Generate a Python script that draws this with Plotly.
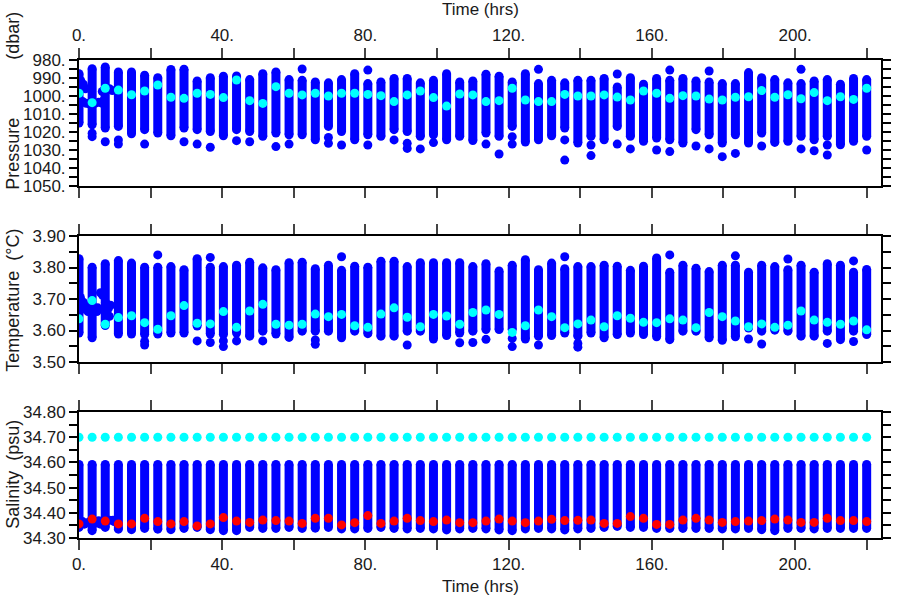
import plotly.graph_objects as go

# ---------------- data ----------------
times = [0.00, 3.67, 7.33, 11.00, 14.67, 18.33, 22.00, 25.67, 29.33, 33.00, 36.67, 40.33,
         44.00, 47.67, 51.33, 55.00, 58.67, 62.33, 66.00, 69.67, 73.33, 77.00, 80.67, 84.33,
         88.00, 91.67, 95.33, 99.00, 102.67, 106.33, 110.00, 113.67, 117.33, 121.00, 124.67,
         128.33, 132.00, 135.67, 139.33, 143.00, 146.67, 150.33, 154.00, 157.67, 161.33,
         165.00, 168.67, 172.33, 176.00, 179.67, 183.33, 187.00, 190.67, 194.33, 198.00,
         201.67, 205.33, 209.00, 212.67, 216.33, 220.00]

# Pressure (dbar)
p_top = [987.6, 984.8, 983.9, 986.6, 986.6, 988.5, 989.8, 985.3, 985.1, 991.6, 989.8, 989.0,
         988.9, 990.9, 987.6, 986.6, 990.9, 991.3, 992.2, 992.7, 990.9, 987.6, 993.1, 992.2,
         990.3, 990.3, 992.7, 991.3, 987.6, 992.2, 991.6, 987.9, 989.0, 992.2, 987.6, 993.1,
         991.3, 992.7, 991.3, 991.3, 990.3, 995.0, 989.8, 993.5, 990.3, 991.3, 990.3, 991.6,
         992.2, 993.1, 993.1, 987.0, 989.8, 990.9, 992.7, 993.1, 991.6, 990.9, 993.5, 990.3,
         990.9]
p_bot = [1015.0, 1016.0, 1017.8, 1016.9, 1021.0, 1018.7, 1020.6, 1022.1, 1017.8, 1018.7,
         1019.7, 1022.1, 1018.7, 1019.7, 1022.4, 1020.6, 1021.5, 1021.5, 1024.3, 1016.9,
         1019.7, 1024.3, 1021.5, 1022.4, 1018.7, 1019.7, 1022.4, 1021.5, 1024.3, 1022.4,
         1024.7, 1020.6, 1022.4, 1016.9, 1025.6, 1024.3, 1022.1, 1017.8, 1026.1, 1022.4,
         1024.3, 1016.9, 1022.4, 1025.2, 1023.4, 1024.3, 1026.1, 1018.7, 1021.5, 1026.1,
         1021.5, 1026.1, 1020.6, 1025.8, 1025.2, 1022.4, 1024.3, 1022.4, 1027.1, 1025.2,
         1022.4]
p_cyan = [998.5, 1003.7, 995.7, 996.7, 999.3, 997.2, 993.9, 1000.7, 1001.3, 998.5, 999.1,
          1000.9, 991.1, 1002.6, 1004.1, 994.8, 998.5, 999.4, 998.5, 1000.0, 998.5, 998.5,
          999.1, 999.8, 1003.1, 999.4, 997.2, 1000.9, 1005.6, 998.9, 999.4, 1003.1, 1002.6,
          995.7, 1002.2, 1003.1, 1003.1, 999.1, 1000.0, 1000.0, 999.4, 1000.6, 1002.2, 997.2,
          998.5, 1001.3, 999.8, 1000.0, 1001.7, 1002.2, 1000.7, 1000.4, 997.0, 1000.7, 999.3,
          1001.5, 998.1, 1002.6, 1000.4, 1001.9, 995.7]
p_extra_idx = [1, 1, 2, 3, 3, 5, 8, 9, 10, 12, 13, 15, 16, 17, 19, 19, 20, 22, 22, 24, 25, 25,
               26, 27, 31, 32, 33, 33, 35, 37, 37, 39, 39, 41, 41, 42, 44, 45, 45, 47, 48, 48,
               49, 50, 52, 55, 55, 56, 57, 57, 60]
p_extra_val = [1020.7, 1022.6, 1025.4, 1024.4, 1026.7, 1026.7, 1025.4, 1026.7, 1028.5, 1024.8,
               1025.4, 1028.1, 1026.7, 985.0, 1023.0, 1026.3, 1027.2, 985.6, 1027.2, 1024.4,
               1026.3, 1029.1, 1029.4, 1025.9, 1026.7, 1032.2, 1022.6, 1026.7, 985.2, 1024.4,
               1035.6, 1027.2, 1033.1, 987.8, 1026.7, 1029.4, 1030.0, 985.6, 1030.9, 1027.8,
               986.1, 1029.4, 1033.7, 1031.9, 1027.8, 985.2, 1029.4, 1030.4, 1027.2, 1032.8,
               1030.0]
p_early_t = [0.5, 1.2, 1.8, 1.0, 2.0, 3.0, 4.5, 5.5, 6.5, 7.0, 6.5, 7.5, 8.5, 9.3]
p_early = [991.5, 993.5, 996.0, 1003.0, 1004.0, 1004.5, 1004.0, 1003.5, 1004.0, 1002.0,
           997.5, 996.5, 996.0, 997.0]

# Temperature (deg C)
t_top = [3.828, 3.801, 3.812, 3.822, 3.814, 3.801, 3.801, 3.803, 3.793, 3.828, 3.801, 3.803,
         3.807, 3.817, 3.799, 3.793, 3.815, 3.817, 3.796, 3.807, 3.791, 3.804, 3.801, 3.820,
         3.820, 3.803, 3.815, 3.815, 3.815, 3.815, 3.803, 3.812, 3.789, 3.807, 3.825, 3.793,
         3.814, 3.796, 3.803, 3.803, 3.807, 3.804, 3.791, 3.804, 3.830, 3.785, 3.807, 3.798,
         3.787, 3.807, 3.807, 3.785, 3.807, 3.803, 3.793, 3.807, 3.785, 3.812, 3.807, 3.785,
         3.794]
t_bot = [3.592, 3.577, 3.616, 3.589, 3.589, 3.587, 3.589, 3.592, 3.592, 3.614, 3.589, 3.587,
         3.592, 3.582, 3.598, 3.589, 3.578, 3.598, 3.598, 3.598, 3.577, 3.598, 3.590, 3.582,
         3.582, 3.598, 3.598, 3.573, 3.584, 3.592, 3.598, 3.603, 3.603, 3.603, 3.573, 3.582,
         3.584, 3.592, 3.582, 3.592, 3.577, 3.587, 3.592, 3.587, 3.580, 3.571, 3.598, 3.598,
         3.577, 3.569, 3.580, 3.608, 3.598, 3.601, 3.598, 3.582, 3.582, 3.598, 3.571, 3.598,
         3.587]
t_cyan = [3.637, 3.695, 3.620, 3.641, 3.647, 3.625, 3.604, 3.647, 3.679, 3.623, 3.621, 3.660,
          3.610, 3.662, 3.683, 3.620, 3.617, 3.620, 3.652, 3.644, 3.651, 3.615, 3.610, 3.652,
          3.672, 3.642, 3.612, 3.651, 3.646, 3.620, 3.657, 3.665, 3.651, 3.594, 3.615, 3.665,
          3.644, 3.609, 3.621, 3.633, 3.612, 3.647, 3.639, 3.626, 3.625, 3.637, 3.633, 3.609,
          3.657, 3.644, 3.630, 3.612, 3.621, 3.610, 3.617, 3.662, 3.633, 3.626, 3.620, 3.630,
          3.602]
t_extra_idx = [5, 5, 6, 9, 10, 10, 11, 11, 12, 14, 18, 18, 20, 25, 29, 30, 31, 33, 33, 35, 37,
               38, 38, 45, 50, 51, 52, 54, 57, 59, 59]
t_extra_val = [3.565, 3.554, 3.840, 3.567, 3.832, 3.562, 3.567, 3.549, 3.567, 3.567, 3.570,
               3.556, 3.834, 3.554, 3.561, 3.562, 3.572, 3.575, 3.549, 3.554, 3.834, 3.559,
               3.547, 3.840, 3.837, 3.573, 3.557, 3.827, 3.559, 3.821, 3.565]
t_early_t = [0.4, 1.2, 2.0, 3.0, 4.2, 5.2, 6.0, 6.6, 7.4, 8.2, 8.8, 1.0, 2.5, 5.0, 8.5]
t_early = [3.705, 3.690, 3.675, 3.672, 3.668, 3.672, 3.720, 3.712, 3.690, 3.670, 3.680,
           3.668, 3.660, 3.660, 3.645]

# Salinity (psu)
s_top = [34.592, 34.592, 34.592, 34.592, 34.592, 34.592, 34.592, 34.592, 34.592, 34.592,
         34.592, 34.592, 34.592, 34.592, 34.592, 34.592, 34.592, 34.592, 34.592, 34.592,
         34.592, 34.592, 34.592, 34.592, 34.592, 34.592, 34.592, 34.592, 34.592, 34.592,
         34.592, 34.592, 34.592, 34.592, 34.592, 34.592, 34.592, 34.592, 34.592, 34.592,
         34.592, 34.592, 34.592, 34.592, 34.592, 34.592, 34.592, 34.592, 34.592, 34.592,
         34.592, 34.592, 34.592, 34.592, 34.592, 34.592, 34.592, 34.592, 34.592, 34.592,
         34.592]
s_bot = [34.342, 34.329, 34.342, 34.335, 34.333, 34.338, 34.335, 34.333, 34.338, 34.342,
         34.333, 34.329, 34.329, 34.342, 34.338, 34.338, 34.342, 34.338, 34.339, 34.342,
         34.336, 34.336, 34.338, 34.342, 34.338, 34.336, 34.338, 34.336, 34.332, 34.336,
         34.338, 34.336, 34.332, 34.329, 34.336, 34.338, 34.336, 34.332, 34.336, 34.338,
         34.342, 34.346, 34.342, 34.342, 34.338, 34.338, 34.338, 34.338, 34.338, 34.336,
         34.336, 34.338, 34.333, 34.329, 34.338, 34.338, 34.336, 34.338, 34.338, 34.338,
         34.338]
s_red = [34.356, 34.375, 34.367, 34.356, 34.356, 34.378, 34.365, 34.356, 34.365, 34.348,
         34.356, 34.381, 34.367, 34.362, 34.371, 34.369, 34.367, 34.358, 34.378, 34.378,
         34.352, 34.361, 34.389, 34.358, 34.367, 34.378, 34.369, 34.365, 34.371, 34.361,
         34.361, 34.367, 34.375, 34.367, 34.361, 34.367, 34.374, 34.369, 34.370, 34.371,
         34.358, 34.358, 34.385, 34.378, 34.354, 34.354, 34.371, 34.378, 34.371, 34.362,
         34.365, 34.367, 34.369, 34.375, 34.371, 34.362, 34.362, 34.378, 34.369, 34.369,
         34.365]
s_cyan = [34.70, 34.70, 34.70, 34.70, 34.70, 34.70, 34.70, 34.70, 34.70, 34.70, 34.70, 34.70,
          34.70, 34.70, 34.70, 34.70, 34.70, 34.70, 34.70, 34.70, 34.70, 34.70, 34.70, 34.70,
          34.70, 34.70, 34.70, 34.70, 34.70, 34.70, 34.70, 34.70, 34.70, 34.70, 34.70, 34.70,
          34.70, 34.70, 34.70, 34.70, 34.70, 34.70, 34.70, 34.70, 34.70, 34.70, 34.70, 34.70,
          34.70, 34.70, 34.70, 34.70, 34.70, 34.70, 34.70, 34.70, 34.70, 34.70, 34.70, 34.70,
          34.70]
s_early_t = [1.0, 2.0, 3.0, 5.0, 6.0, 7.0, 8.5, 9.5, 1.5, 5.5, 9.8]
s_early = [34.365, 34.360, 34.365, 34.360, 34.355, 34.360, 34.370, 34.370, 34.355, 34.368,
           34.365]

xtick_vals = [0, 20, 40, 60, 80, 100, 120, 140, 160, 180, 200, 220]
xtick_text = ["0.", "", "40.", "", "80.", "", "120.", "", "160.", "", "200.", ""]
p_ticks = [980, 985, 990, 995, 1000, 1005, 1010, 1015, 1020, 1025, 1030, 1035, 1040, 1045, 1050]
p_ticktext = ["980.", "", "990.", "", "1000.", "", "1010.", "", "1020.", "", "1030.", "",
              "1040.", "", "1050."]
t_ticks = [3.50, 3.55, 3.60, 3.65, 3.70, 3.75, 3.80, 3.85, 3.90]
t_ticktext = ["3.50", "", "3.60", "", "3.70", "", "3.80", "", "3.90"]
s_ticks = [34.30, 34.35, 34.40, 34.45, 34.50, 34.55, 34.60, 34.65, 34.70, 34.75, 34.80]
s_ticktext = ["34.30", "", "34.40", "", "34.50", "", "34.60", "", "34.70", "", "34.80"]

# ---------------- figure ----------------
BLUE = "#0000FF"
CYAN = "#00FFFF"
RED = "#FF0000"
MS = 9
FONT = "Liberation Sans, Arial, sans-serif"
TXT = "#1a1a1a"

fig = go.Figure()


def columns(tops, bots, xa, ya):
    xs, ys = [], []
    for t, a, b in zip(times, tops, bots):
        xs += [t, t, None]
        ys += [a, b, None]
    fig.add_trace(go.Scatter(x=xs, y=ys, mode="lines+markers", xaxis=xa, yaxis=ya,
                             line=dict(color=BLUE, width=MS),
                             marker=dict(color=BLUE, size=MS, line=dict(width=0)),
                             hoverinfo="skip", showlegend=False))


def dots(xs, ys, color, xa, ya):
    fig.add_trace(go.Scatter(x=xs, y=ys, mode="markers", xaxis=xa, yaxis=ya,
                             marker=dict(color=color, size=MS, line=dict(width=0)),
                             showlegend=False))


# Pressure panel
columns(p_top, p_bot, "x", "y")
dots([times[i] for i in p_extra_idx], p_extra_val, BLUE, "x", "y")
dots(p_early_t, p_early, BLUE, "x", "y")
dots(times, p_cyan, CYAN, "x", "y")

# Temperature panel
columns(t_top, t_bot, "x2", "y2")
dots([times[i] for i in t_extra_idx], t_extra_val, BLUE, "x2", "y2")
dots(t_early_t, t_early, BLUE, "x2", "y2")
dots(times, t_cyan, CYAN, "x2", "y2")

# Salinity panel
columns(s_top, s_bot, "x3", "y3")
dots(s_early_t, s_early, BLUE, "x3", "y3")
dots(times, s_cyan, CYAN, "x3", "y3")
dots(times, s_red, RED, "x3", "y3")

L, R, T, B = 79, 9, 60, 62
W, H = 900, 600
PH = H - T - B
PW = W - L - R


def py(pix):
    return (H - B - pix) / PH


def px(pix):
    return (pix - L) / PW


xcommon = dict(range=[0, 224], tickvals=xtick_vals, ticktext=xtick_text, ticks="outside",
               ticklen=10, tickwidth=1.5, tickcolor="#444", showline=True, linewidth=2,
               linecolor="black", mirror="allticks", showgrid=False, zeroline=False,
               tickfont=dict(family=FONT, size=17, color=TXT), domain=[0, 1])
ycommon = dict(ticks="outside", ticklen=8, tickwidth=1.5, tickcolor="black", showline=True,
               linewidth=2, linecolor="black", mirror="allticks", showgrid=False,
               zeroline=False, tickfont=dict(family=FONT, size=17, color=TXT))

fig.update_layout(
    width=W, height=H, margin=dict(l=L, r=R, t=T, b=B),
    paper_bgcolor="white", plot_bgcolor="white", showlegend=False,
    xaxis=dict(xcommon, anchor="y", side="top"),
    xaxis2=dict(xcommon, anchor="y2", side="bottom", showticklabels=False),
    xaxis3=dict(xcommon, anchor="y3", side="bottom"),
    yaxis=dict(ycommon, anchor="x", domain=[py(186), py(60)], range=[1050, 980],
               tickvals=p_ticks, ticktext=p_ticktext),
    yaxis2=dict(ycommon, anchor="x2", domain=[py(362), py(236)], range=[3.50, 3.90],
                tickvals=t_ticks, ticktext=t_ticktext),
    yaxis3=dict(ycommon, anchor="x3", domain=[py(538), py(412)], range=[34.30, 34.80],
                tickvals=s_ticks, ticktext=s_ticktext),
)

ann_font = dict(family=FONT, size=17, color=TXT)
tfont = dict(family=FONT, size=18, color=TXT)
annotations = [
    dict(text="Time (hrs)", x=0.5, y=py(9), xref="paper", yref="paper", showarrow=False,
         xanchor="center", yanchor="middle", font=ann_font),
    dict(text="Time (hrs)", x=0.5, y=py(586), xref="paper", yref="paper", showarrow=False,
         xanchor="center", yanchor="middle", font=ann_font),
    dict(text="Pressure", x=px(12), y=py(154), xref="paper", yref="paper", showarrow=False,
         textangle=-90, xanchor="center", yanchor="middle", font=tfont),
    dict(text="(dbar)", x=px(12), y=py(36), xref="paper", yref="paper", showarrow=False,
         textangle=-90, xanchor="center", yanchor="middle", font=tfont),
    dict(text="Temperature  (°C)", x=px(12), y=py(300), xref="paper", yref="paper",
         showarrow=False, textangle=-90, xanchor="center", yanchor="middle", font=tfont),
    dict(text="Salinity  (psu)", x=px(12), y=py(474), xref="paper", yref="paper",
         showarrow=False, textangle=-90, xanchor="center", yanchor="middle", font=tfont),
]
fig.update_layout(annotations=annotations)

fig.write_html("out.html", config={"displayModeBar": False},
               post_script="document.body.style.margin='0px';")
